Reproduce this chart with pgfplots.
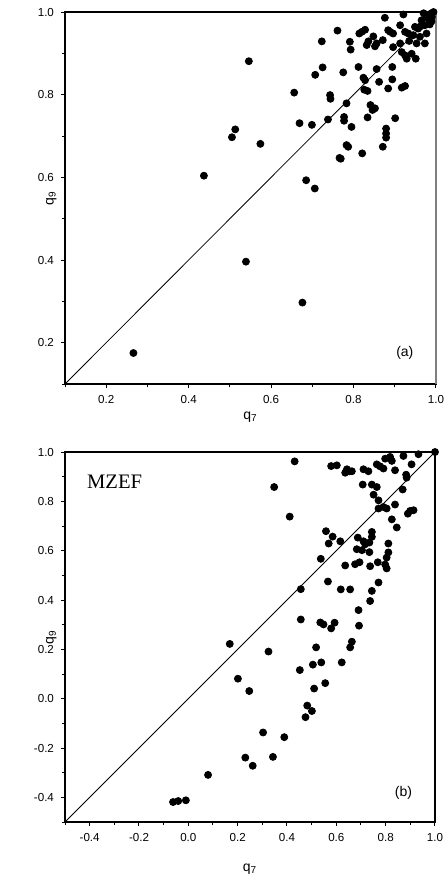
\documentclass[border=0pt]{standalone}
\usepackage{pgfplots}
\pgfplotsset{compat=1.18}
\usepackage{fontspec}
\setmainfont{Liberation Sans}
\newfontfamily\seriffont{Liberation Serif}

\pgfplotstableread{
x y
0.266 0.175
0.539 0.396
0.676 0.297
0.437 0.604
0.685 0.593
0.706 0.573
0.505 0.697
0.513 0.716
0.574 0.681
0.546 0.881
0.656 0.805
0.669 0.731
0.699 0.727
0.738 0.740
0.743 0.799
0.744 0.790
0.777 0.746
0.777 0.737
0.795 0.722
0.783 0.779
0.783 0.678
0.787 0.674
0.766 0.647
0.769 0.645
0.821 0.658
0.871 0.674
0.879 0.718
0.879 0.706
0.879 0.696
0.834 0.745
0.841 0.775
0.846 0.763
0.852 0.767
0.901 0.743
0.826 0.812
0.834 0.809
0.884 0.815
0.917 0.817
0.925 0.821
0.862 0.831
0.894 0.837
0.824 0.841
0.828 0.835
0.856 0.862
0.894 0.867
0.812 0.867
0.775 0.854
0.725 0.866
0.707 0.848
0.723 0.929
0.761 0.955
0.791 0.928
0.793 0.909
0.814 0.948
0.820 0.952
0.828 0.957
0.848 0.941
0.832 0.920
0.836 0.929
0.852 0.917
0.856 0.924
0.871 0.932
0.876 0.986
0.884 0.956
0.889 0.952
0.896 0.948
0.913 0.968
0.921 0.994
0.925 0.952
0.896 0.915
0.913 0.924
0.933 0.948
0.949 0.964
0.957 0.960
0.945 0.944
0.961 0.940
0.953 0.924
0.973 0.924
0.977 0.948
0.917 0.903
0.925 0.895
0.941 0.899
0.929 0.887
0.951 0.887
0.970 0.997
0.977 0.990
0.985 0.993
0.989 0.997
0.994 1.000
0.981 0.985
0.989 0.977
0.973 0.968
0.965 0.980
0.985 0.970
0.990 0.988
0.962 0.965
0.935 0.930
}\dataA

\pgfplotstableread{
x y
1.000 1.000
0.933 0.991
0.872 0.984
0.798 0.973
0.818 0.980
0.825 0.964
0.764 0.950
0.777 0.942
0.791 0.933
0.838 0.926
0.710 0.930
0.730 0.922
0.905 0.950
0.883 0.908
0.885 0.896
0.431 0.962
0.579 0.943
0.602 0.946
0.643 0.930
0.653 0.922
0.636 0.916
0.663 0.922
0.348 0.858
0.707 0.868
0.744 0.868
0.764 0.858
0.751 0.827
0.771 0.804
0.869 0.848
0.411 0.738
0.838 0.787
0.771 0.771
0.791 0.777
0.804 0.771
0.890 0.750
0.899 0.761
0.913 0.764
0.825 0.727
0.845 0.694
0.558 0.679
0.585 0.657
0.569 0.629
0.616 0.638
0.687 0.653
0.744 0.676
0.744 0.656
0.710 0.638
0.717 0.626
0.734 0.633
0.683 0.606
0.704 0.602
0.734 0.594
0.811 0.629
0.811 0.593
0.804 0.572
0.537 0.567
0.636 0.540
0.676 0.545
0.694 0.553
0.737 0.537
0.768 0.553
0.798 0.544
0.804 0.528
0.456 0.444
0.566 0.475
0.618 0.443
0.656 0.443
0.771 0.471
0.744 0.437
0.737 0.396
0.690 0.359
0.456 0.321
0.535 0.309
0.548 0.301
0.593 0.308
0.579 0.285
0.692 0.296
0.168 0.222
0.325 0.191
0.518 0.208
0.663 0.231
0.656 0.208
0.622 0.147
0.539 0.147
0.505 0.138
0.452 0.116
0.555 0.063
0.510 0.041
0.201 0.081
0.247 0.031
0.482 -0.028
0.501 -0.050
0.475 -0.075
0.303 -0.137
0.389 -0.156
0.231 -0.239
0.343 -0.236
0.261 -0.272
0.080 -0.309
-0.062 -0.419
-0.041 -0.415
-0.010 -0.412
}\dataB

\pgfplotsset{
  myaxis/.style={
    scale only axis,
    clip=false,
    axis line style={line width=0.6pt, black},
    tick style={black, line width=0.5pt},
    tick align=outside,
    xtick pos=bottom, ytick pos=left,
    major tick length=2pt,
    minor tick length=1.5pt,
    tick label style={font=\fontsize{5.8}{7}\selectfont},
    label style={font=\fontsize{7}{8.4}\selectfont},
    ylabel style={at={(axis description cs:-0.037,0.5)}, anchor=center},
    /pgf/number format/.cd, fixed, fixed zerofill, precision=1, assume math mode=true,
  },
  mydots/.style={only marks, mark=*, mark size=1.75pt, black},
}

\begin{document}
\begin{tikzpicture}
\useasboundingbox (0,0) rectangle (222pt,-440pt);
\begin{axis}[myaxis,
  at={(32.5pt,-6pt)}, anchor=north west,
  width=185.5pt, height=186pt,
  xmin=0.1, xmax=1.0, ymin=0.1, ymax=1.0,
  xtick={0.2,0.4,0.6,0.8,1.0}, minor xtick={0.1,0.3,0.5,0.7,0.9},
  ytick={0.2,0.4,0.6,0.8,1.0}, minor ytick={0.1,0.3,0.5,0.7,0.9},
  xlabel={q\textsubscript{7}}, ylabel={q\textsubscript{9}},
  xlabel style={at={(axis description cs:0.5,0)}, anchor=base, yshift=-17.5pt},
]
\addplot[black, line width=0.4pt] coordinates {(0.1,0.1) (1,1)};
\addplot[mydots] table[x=x,y=y] {\dataA};
\draw[gray, line width=0.7pt] (rel axis cs:1,0) -- (rel axis cs:1,1);
\node[font=\fontsize{7}{8.4}\selectfont] at (rel axis cs:0.916,0.083) {(a)};
\end{axis}

\begin{axis}[myaxis,
  at={(32.5pt,-226pt)}, anchor=north west,
  width=185pt, height=185pt,
  xmin=-0.5, xmax=1.0, ymin=-0.5, ymax=1.0,
  xtick={-0.4,-0.2,0,0.2,0.4,0.6,0.8,1.0}, minor xtick={-0.5,-0.3,-0.1,0.1,0.3,0.5,0.7,0.9},
  ytick={-0.4,-0.2,0,0.2,0.4,0.6,0.8,1.0}, minor ytick={-0.5,-0.3,-0.1,0.1,0.3,0.5,0.7,0.9},
  xlabel={q\textsubscript{7}}, ylabel={q\textsubscript{9}},
  xlabel style={at={(axis description cs:0.5,0)}, anchor=base, yshift=-24.5pt},
]
\addplot[black, line width=0.4pt] coordinates {(-0.5,-0.5) (1,1)};
\addplot[mydots] table[x=x,y=y] {\dataB};
\node[font=\fontsize{7}{8.4}\selectfont] at (rel axis cs:0.915,0.078) {(b)};
\node[font=\seriffont\fontsize{10.3}{12}\selectfont] at (rel axis cs:0.134,0.92) {MZEF};
\end{axis}
\end{tikzpicture}
\end{document}
